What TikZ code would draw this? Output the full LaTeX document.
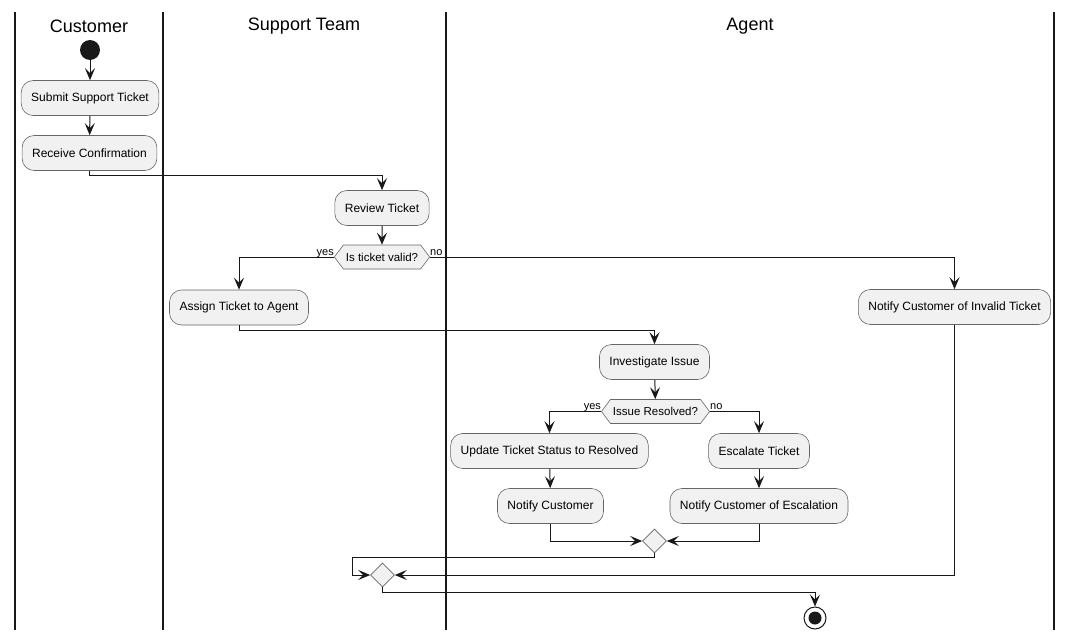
\documentclass[tikz,border=0pt]{standalone}
\usepackage{fontspec}
\setmainfont{Liberation Sans}
\usetikzlibrary{arrows.meta,shapes.geometric,shapes.symbols}
\definecolor{boxfill}{HTML}{F1F1F1}
\definecolor{ink}{HTML}{181818}
\tikzset{
  act/.style={draw=black!60, line width=0.6pt, fill=boxfill, rounded corners=12pt,
    minimum height=35pt, inner xsep=10pt, inner ysep=0pt, font=\fontsize{12}{14}\selectfont},
  dec/.style={signal, signal to=west and east, signal pointer angle=106, draw=black!60,
    line width=0.6pt, fill=boxfill, minimum height=24pt, inner xsep=2.5pt, inner ysep=0pt,
    font=\fontsize{11.5}{13}\selectfont},
  merge/.style={diamond, aspect=1, draw=black!60, line width=0.6pt, fill=boxfill,
    minimum width=24pt, minimum height=24pt, inner sep=0pt},
  flow/.style={draw=ink, line width=1pt, -{Stealth[length=12pt,width=10pt,inset=5pt]}},
  plain/.style={draw=ink, line width=1pt},
  lane/.style={draw=ink, line width=1.8pt},
  head/.style={font=\fontsize{18}{20}\selectfont, text=black},
  lbl/.style={font=\fontsize{11}{12}\selectfont, inner sep=0pt}
}
\begin{document}
\begin{tikzpicture}[x=1pt,y=-1pt]
\useasboundingbox (0,0) rectangle (1073,640);
% swimlanes
\draw[lane] (15,12) -- (15,630);
\draw[lane] (163,12) -- (163,630);
\draw[lane] (446,12) -- (446,630);
\draw[lane] (1054,12) -- (1054,630);
\node[head] (hc) at (89,26) {Customer};
\node[head] (hs) at (304,26) {Support Team};
\node[head] (ha) at (750,26) {Agent};
% nodes
\node[circle, fill=ink, minimum size=20pt, inner sep=0pt] (start) at (90,50) {};
\node[act] (submit) at (90,98) {Submit Support Ticket};
\node[act] (receive) at (89.5,153) {Receive Confirmation};
\node[act] (review) at (382,208) {Review Ticket};
\node[dec] (d1) at (382,257) {Is ticket valid?};
\node[act] (assign) at (239,307.5) {Assign Ticket to Agent};
\node[act] (invalid) at (954.5,307) {Notify Customer of Invalid Ticket};
\node[act] (invest) at (654.5,362) {Investigate Issue};
\node[dec] (d2) at (655.5,411.5) {Issue Resolved?};
\node[act] (update) at (549.5,451) {Update Ticket Status to Resolved};
\node[act] (escal) at (759,451) {Escalate Ticket};
\node[act] (notc) at (550.5,506) {Notify Customer};
\node[act] (note) at (759,506) {Notify Customer of Escalation};
\node[merge] (m1) at (654.5,541) {};
\node[merge] (m2) at (382.5,575) {};
\node[circle, draw=ink, line width=1pt, fill=white, minimum size=22pt, inner sep=0pt] (endc) at (815,618) {};
\node[circle, fill=ink, minimum size=13pt, inner sep=0pt] (endi) at (endc.center) {};
\coordinate (c1) at (352,557);
% labels
\node[lbl, anchor=base east] (y1) at (d1.west |- 0,255) {yes};
\node[lbl, anchor=base west] (n1) at (d1.east |- 0,255) {no};
\node[lbl, anchor=base east] (y2) at (d2.west |- 0,409) {yes};
\node[lbl, anchor=base west] (n2) at (d2.east |- 0,409) {no};
% connectors
\draw[flow] (start) -- (submit);
\draw[flow] (submit) -- (receive);
\draw[flow] (receive.south) -- ++(0,5) -| (review.north);
\draw[flow] (review) -- (d1);
\draw[flow] (d1.west) -| (assign.north);
\draw[flow] (d1.east) -| (invalid.north);
\draw[flow] (assign.south) -- ++(0,5) -| (invest.north);
\draw[flow] (invest) -- (d2);
\draw[flow] (d2.west) -| (update.north);
\draw[flow] (d2.east) -| (escal.north);
\draw[flow] (update) -- (notc);
\draw[flow] (escal) -- (note);
\draw[flow] (notc.south) |- (m1.west);
\draw[flow] (note.south) |- (m1.east);
\draw[plain] (m1.south) |- (c1);
\draw[flow] (c1) |- (m2.west);
\draw[flow] (invalid.south) |- (m2.east);
\draw[flow] (m2.south) -- ++(0,5) -| (endc.north);
\end{tikzpicture}
\end{document}
